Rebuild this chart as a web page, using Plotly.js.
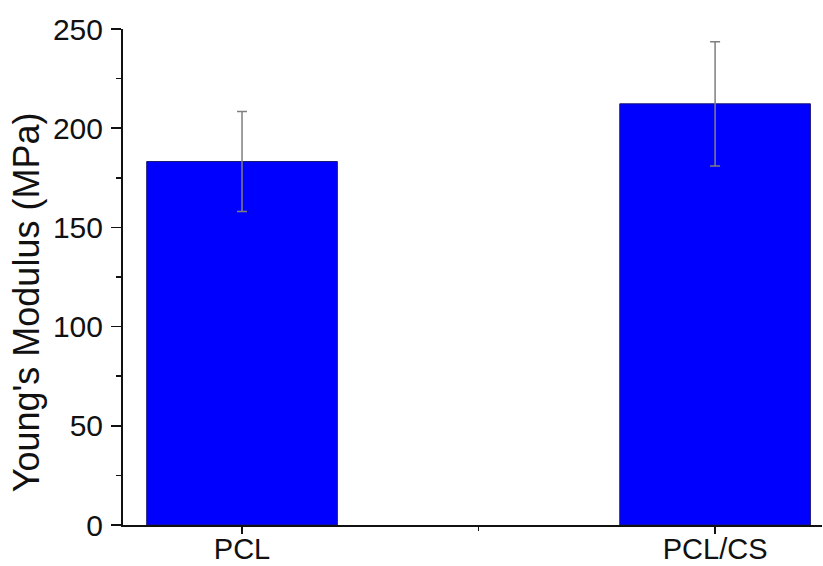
<!DOCTYPE html>
<html>
<head>
<meta charset="utf-8">
<script src="https://cdn.plot.ly/plotly-3.0.1.min.js"></script>
<style>
  html, body { margin: 0; padding: 0; background: #fff; overflow: hidden; }
  #chart { width: 823px; height: 566px; }
</style>
</head>
<body>
<div id="chart"></div>
<script>
// Data
const categories = ["PCL", "PCL/CS"];
const modulus = [183.2, 212.3];        // Young's modulus (MPa)
const modulusErr = [25.2, 31.3];       // standard deviation (MPa)
const yTickVals = [0, 50, 100, 150, 200, 250];
const yTitle = "Young's Modulus (MPa)";

const xPos = categories.map((_, i) => i);

const trace = {
  type: "bar",
  x: xPos,
  y: modulus,
  width: 0.403,
  marker: { color: "#0000FF", line: { color: "#1a1a6e", width: 1 } },
  error_y: {
    type: "data",
    array: modulusErr,
    visible: true,
    color: "#7f7f7f",
    thickness: 1.5,
    width: 5
  },
  hoverinfo: "none"
};

const fontFamily = "Liberation Sans, Arial, sans-serif";

const layout = {
  width: 823,
  height: 566,
  margin: { l: 123, r: 1, t: 29, b: 41, pad: 0 },
  paper_bgcolor: "#ffffff",
  plot_bgcolor: "#ffffff",
  showlegend: false,
  font: { family: fontFamily, color: "#111", size: 30 },
  xaxis: {
    type: "linear",
    range: [-0.2516, 1.226],
    tickmode: "array",
    tickvals: xPos,
    ticktext: categories,
    ticks: "outside",
    ticklen: 7,
    tickwidth: 1.5,
    tickcolor: "#111",
    showline: true,
    linecolor: "#111",
    linewidth: 2,
    showgrid: false,
    zeroline: false,
    ticklabelstandoff: -10,
    tickfont: { size: 29, family: fontFamily, color: "#111" },
    minor: { tickmode: "array", tickvals: [0.5], ticks: "outside", ticklen: 4, tickwidth: 1.5, tickcolor: "#111", showgrid: false }
  },
  yaxis: {
    range: [0, 250],
    tickmode: "array",
    tickvals: yTickVals,
    ticks: "outside",
    ticklen: 10,
    tickwidth: 1.5,
    tickcolor: "#111",
    showline: true,
    linecolor: "#111",
    linewidth: 2,
    showgrid: false,
    zeroline: false,
    ticklabelstandoff: 2,
    tickfont: { size: 30, family: fontFamily, color: "#111" },
    minor: { dtick: 25, tick0: 0, ticks: "outside", ticklen: 5, tickwidth: 1.5, tickcolor: "#111", showgrid: false }
  },
  annotations: [{
    text: yTitle,
    xref: "paper", yref: "paper",
    x: -0.1388, y: 0.4489,
    xanchor: "center", yanchor: "middle",
    textangle: -90,
    showarrow: false,
    font: { size: 36, family: fontFamily, color: "#111" }
  }]
};

Plotly.newPlot("chart", [trace], layout, { displayModeBar: false, staticPlot: true });
</script>
</body>
</html>
